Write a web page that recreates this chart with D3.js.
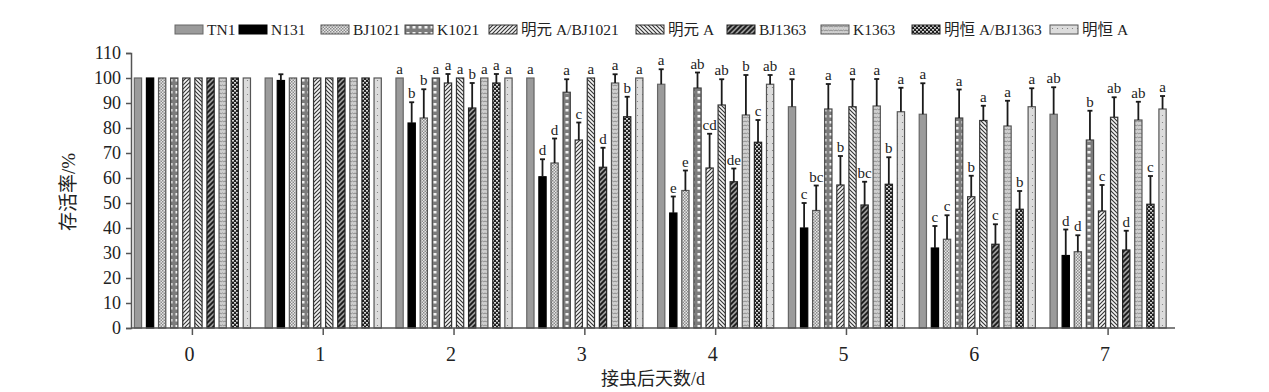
<!DOCTYPE html>
<html>
<head>
<meta charset="utf-8">
<script src="https://cdn.jsdelivr.net/npm/d3@7"></script>
<style>
  body { margin: 0; background: #fff; }
  svg text { font-family: "Liberation Serif", "Times New Roman", "DejaVu Serif", "Noto Sans CJK SC", serif; fill: #222; }
</style>
</head>
<body>
<svg id="chart" width="1269" height="392"></svg>
<script>
// days after infestation (x groups)
const days = ["0", "1", "2", "3", "4", "5", "6", "7"];
const series = ["TN1", "N131", "BJ1021", "K1021", "明元 A/BJ1021", "明元 A", "BJ1363", "K1363", "明恒 A/BJ1363", "明恒 A"];
const yTicks = [0, 10, 20, 30, 40, 50, 60, 70, 80, 90, 100, 110];

// survival rate (%), one row per series, one value per day
const survival = [
  [100, 100, 100, 100, 97.5, 88.5, 85.5, 85.5],
  [100, 99, 82, 60.5, 46, 40, 32, 29],
  [100, 100, 84, 66, 55, 47, 35.5, 30.5],
  [100, 100, 100, 94.3, 96, 87.6, 84, 75.2],
  [100, 100, 98, 75.2, 64, 57.2, 52.5, 46.8],
  [100, 100, 100, 100, 89.2, 88.5, 83, 84.3],
  [100, 100, 88, 64.3, 58.5, 49.2, 33.5, 31.2],
  [100, 100, 100, 98, 85.2, 88.8, 80.8, 83.2],
  [100, 100, 98, 84.5, 74.3, 57.5, 47.5, 49.5],
  [100, 100, 100, 100, 97.5, 86.5, 88.5, 87.6]
];
// upper error (SD)
const errUp = [
  [0, 0, 0, 0, 6, 11, 12.4, 10.8],
  [0, 2.5, 8.3, 7, 6.6, 10, 8.8, 10.4],
  [0, 0, 11.5, 9.8, 8, 10, 9.6, 6.6],
  [0, 0, 0, 5.2, 6.2, 10, 11.4, 11.7],
  [0, 0, 3.6, 7, 13.7, 11.6, 8.4, 10.4],
  [0, 0, 0, 0, 10.3, 11, 5.9, 8],
  [0, 0, 10, 7.8, 5.3, 9.3, 8, 7.7],
  [0, 0, 0, 3.5, 16, 10.8, 10.1, 7.3],
  [0, 0, 3.6, 8, 8.9, 10.8, 7.3, 11.3],
  [0, 0, 0, 0, 3.7, 9.6, 7.4, 5.2]
];
// significance letters
const letters = [
  ["", "", "a", "a", "a", "a", "a", "ab"],
  ["", "", "b", "d", "e", "c", "c", "d"],
  ["", "", "b", "d", "e", "bc", "c", "d"],
  ["", "", "a", "a", "ab", "a", "a", "b"],
  ["", "", "a", "c", "cd", "b", "b", "c"],
  ["", "", "a", "a", "ab", "a", "a", "ab"],
  ["", "", "b", "d", "de", "bc", "c", "d"],
  ["", "", "a", "a", "b", "a", "a", "ab"],
  ["", "", "a", "b", "c", "b", "b", "c"],
  ["", "", "a", "a", "ab", "a", "a", "a"]
];

const svg = d3.select("#chart");
const defs = svg.append("defs");

// fill patterns for each series
function pat(id, w, h, draw) {
  const p = defs.append("pattern").attr("id", id)
    .attr("patternUnits", "userSpaceOnUse").attr("width", w).attr("height", h);
  draw(p);
}
pat("p2", 3, 3, p => {
  p.append("rect").attr("width", 3).attr("height", 3).attr("fill", "#e6e6e6");
  p.append("rect").attr("width", 1.5).attr("height", 1.5).attr("fill", "#8a8a8a");
  p.append("rect").attr("x", 1.5).attr("y", 1.5).attr("width", 1.5).attr("height", 1.5).attr("fill", "#8a8a8a");
});
pat("p3", 6, 6, p => {
  p.append("rect").attr("width", 6).attr("height", 6).attr("fill", "#7c7c7c");
  p.append("rect").attr("x", 1.5).attr("y", 1).attr("width", 3).attr("height", 2.5).attr("fill", "#f2f2f2");
});
pat("p4", 4, 4, p => {
  p.append("rect").attr("width", 4).attr("height", 4).attr("fill", "#f4f4f4");
  p.append("path").attr("d", "M-1,1 l2,-2 M0,4 l4,-4 M3,5 l2,-2").attr("stroke", "#333").attr("stroke-width", 1.1);
});
pat("p5", 4, 4, p => {
  p.append("rect").attr("width", 4).attr("height", 4).attr("fill", "#f4f4f4");
  p.append("path").attr("d", "M-1,3 l2,2 M0,0 l4,4 M3,-1 l2,2").attr("stroke", "#333").attr("stroke-width", 1.1);
});
pat("p6", 5, 5, p => {
  p.append("rect").attr("width", 5).attr("height", 5).attr("fill", "#9a9a9a");
  p.append("path").attr("d", "M-1,1 l2,-2 M0,5 l5,-5 M4,6 l2,-2").attr("stroke", "#1a1a1a").attr("stroke-width", 1.8);
});
pat("p7", 5, 4, p => {
  p.append("rect").attr("width", 5).attr("height", 4).attr("fill", "#cfcfcf");
  p.append("path").attr("d", "M0,1 q1.25,1.5 2.5,0 q1.25,1.5 2.5,0").attr("stroke", "#7a7a7a").attr("fill", "none").attr("stroke-width", 0.8);
});
pat("p8", 4, 4, p => {
  p.append("rect").attr("width", 4).attr("height", 4).attr("fill", "#1e1e1e");
  p.append("rect").attr("width", 2).attr("height", 1.6).attr("fill", "#d8d8d8");
  p.append("rect").attr("x", 2).attr("y", 2).attr("width", 2).attr("height", 1.6).attr("fill", "#d8d8d8");
});
pat("p9", 5, 7, p => {
  p.append("rect").attr("width", 5).attr("height", 7).attr("fill", "#dcdcdc");
  p.append("circle").attr("cx", 2.5).attr("cy", 3.5).attr("r", 0.6).attr("fill", "#777");
});
const fills = ["#9b9b9b", "#000", "url(#p2)", "url(#p3)", "url(#p4)", "url(#p5)", "url(#p6)", "url(#p7)", "url(#p8)", "url(#p9)"];
const strokes = ["#666", "#000", "#555", "#444", "#333", "#333", "#222", "#555", "#222", "#555"];

// scales
const y = d3.scaleLinear().domain([0, 110]).range([328, 53]);
const x0 = d3.scaleBand().domain(days).range([127, 1173.5]).paddingInner(0.075).paddingOuter(0.0375);
const x1 = d3.scaleBand().domain(d3.range(series.length)).range([0, x0.bandwidth()]).paddingInner(0.4).paddingOuter(0.2);

// flatten to one record per bar
const bars = [];
series.forEach((s, i) => days.forEach((d, j) => {
  bars.push({ s: i, day: d, v: survival[i][j], e: errUp[i][j], lab: letters[i][j] });
}));

const g = svg.append("g");
g.selectAll("rect.bar")
  .data(bars)
  .enter()
  .append("rect")
  .attr("class", "bar")
  .attr("x", d => x0(d.day) + x1(d.s))
  .attr("y", d => y(d.v))
  .attr("width", x1.bandwidth())
  .attr("height", d => y(0) - y(d.v))
  .attr("fill", d => fills[d.s])
  .attr("stroke", d => strokes[d.s])
  .attr("stroke-width", 1.2);

// error bars (upper only)
const cx = d => x0(d.day) + x1(d.s) + x1.bandwidth() / 2;
const eb = g.selectAll("g.err").data(bars.filter(d => d.e > 0)).enter().append("g").attr("class", "err");
eb.append("line")
  .attr("x1", cx).attr("x2", cx)
  .attr("y1", d => y(d.v))
  .attr("y2", d => y(d.v + d.e))
  .attr("stroke", "#1a1a1a").attr("stroke-width", 1.8);
eb.append("line")
  .attr("x1", d => cx(d) - 2.5)
  .attr("x2", d => cx(d) + 2.5)
  .attr("y1", d => y(d.v + d.e))
  .attr("y2", d => y(d.v + d.e))
  .attr("stroke", "#1a1a1a").attr("stroke-width", 1.8);

// letters
g.selectAll("text.lab")
  .data(bars.filter(d => d.lab))
  .enter()
  .append("text")
  .attr("class", "lab")
  .attr("x", cx)
  .attr("y", d => y(d.v + d.e) - 4)
  .attr("text-anchor", "middle")
  .style("font-size", "15px")
  .text(d => d.lab);

// axes
const yAxis = svg.append("g")
  .attr("transform", "translate(131,0)")
  .call(d3.axisLeft(y).tickValues(yTicks).tickSize(5).tickPadding(5));
const xAxis = svg.append("g")
  .attr("transform", "translate(0,328)")
  .call(d3.axisBottom(x0).tickSize(7).tickPadding(12));
xAxis.select(".domain").attr("d", "M131,0H1175");
[yAxis, xAxis].forEach(a => {
  a.attr("font-family", null).attr("font-size", null);
  a.selectAll("path,line").attr("stroke", "#555").attr("stroke-width", 1.5);
  a.selectAll("text").attr("fill", "#222");
});
yAxis.selectAll("text").style("font-size", "18px");
xAxis.selectAll("text").style("font-size", "20px").attr("dx", -3);

svg.append("text")
  .attr("x", 653).attr("y", 385)
  .attr("text-anchor", "middle")
  .style("font-size", "18px")
  .text("接虫后天数/d");
svg.append("text")
  .attr("transform", "translate(75,192) rotate(-90)")
  .attr("text-anchor", "middle")
  .style("font-size", "19px")
  .text("存活率/%");

// legend
const legX = [175, 239, 321, 405, 489, 636, 727, 821, 912, 1050];
const leg = svg.append("g").selectAll("g").data(series).enter().append("g")
  .attr("transform", (d, i) => `translate(${legX[i]},25)`);
leg.append("rect")
  .attr("width", 28).attr("height", 9)
  .attr("fill", (d, i) => fills[i])
  .attr("stroke", (d, i) => strokes[i]).attr("stroke-width", 1);
leg.append("text")
  .attr("x", 32).attr("y", 10)
  .style("font-size", "15.5px")
  .text(d => d);
</script>
</body>
</html>
